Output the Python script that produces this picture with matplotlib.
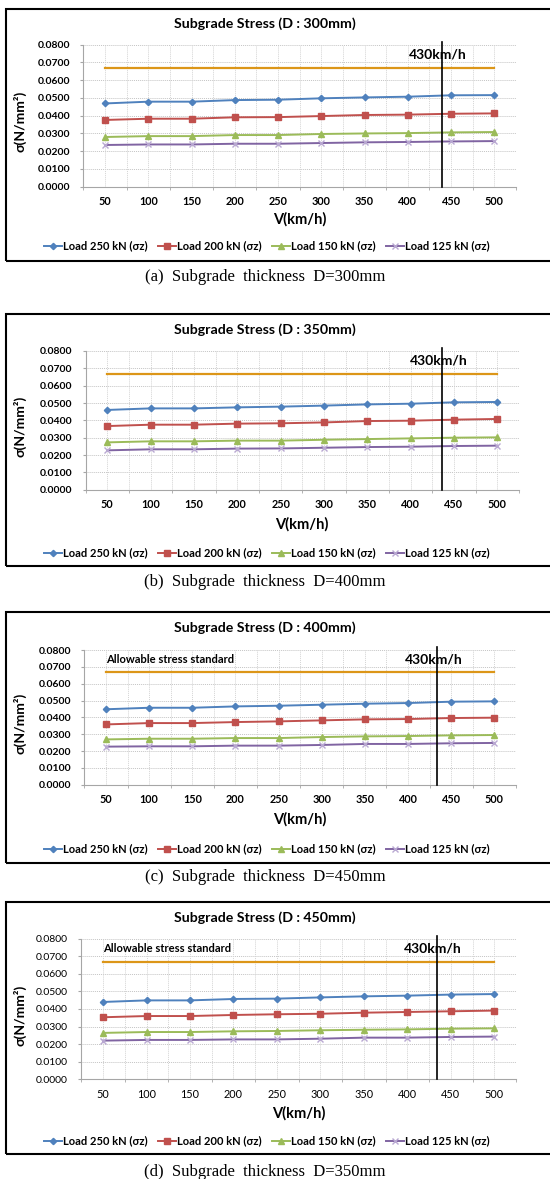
import matplotlib
matplotlib.use('Agg')
import matplotlib.pyplot as plt
from matplotlib.lines import Line2D
from matplotlib.patches import Rectangle
import numpy as np

plt.rcParams['font.family'] = ['Lato', 'DejaVu Sans']

# x categories (km/h)
speeds = [50, 100, 150, 200, 250, 300, 350, 400, 450, 500]

# D = 300mm
d300_250 = [0.0469, 0.0479, 0.0479, 0.0488, 0.0490, 0.0498, 0.0503, 0.0507, 0.0515, 0.0516]
d300_200 = [0.0376, 0.0383, 0.0383, 0.0391, 0.0392, 0.0398, 0.0404, 0.0406, 0.0411, 0.0413]
d300_150 = [0.0280, 0.0285, 0.0285, 0.0291, 0.0291, 0.0297, 0.0300, 0.0302, 0.0306, 0.0308]
d300_125 = [0.0235, 0.0238, 0.0238, 0.0242, 0.0242, 0.0246, 0.0250, 0.0252, 0.0255, 0.0257]

# D = 350mm
d350_250 = [0.0460, 0.0469, 0.0469, 0.0475, 0.0479, 0.0485, 0.0492, 0.0496, 0.0504, 0.0506]
d350_200 = [0.0367, 0.0375, 0.0375, 0.0381, 0.0383, 0.0388, 0.0396, 0.0398, 0.0404, 0.0408]
d350_150 = [0.0273, 0.0279, 0.0279, 0.0283, 0.0283, 0.0288, 0.0292, 0.0296, 0.0300, 0.0302]
d350_125 = [0.0227, 0.0233, 0.0233, 0.0237, 0.0238, 0.0242, 0.0246, 0.0248, 0.0252, 0.0254]

# D = 400mm
d400_250 = [0.0448, 0.0457, 0.0457, 0.0465, 0.0469, 0.0475, 0.0481, 0.0485, 0.0493, 0.0495]
d400_200 = [0.0358, 0.0366, 0.0366, 0.0372, 0.0376, 0.0382, 0.0388, 0.0390, 0.0396, 0.0398]
d400_150 = [0.0269, 0.0273, 0.0273, 0.0277, 0.0277, 0.0283, 0.0287, 0.0289, 0.0293, 0.0295]
d400_125 = [0.0226, 0.0228, 0.0228, 0.0232, 0.0232, 0.0236, 0.0242, 0.0242, 0.0246, 0.0248]

# D = 450mm
d450_250 = [0.0440, 0.0449, 0.0449, 0.0457, 0.0459, 0.0466, 0.0472, 0.0476, 0.0482, 0.0485]
d450_200 = [0.0353, 0.0360, 0.0360, 0.0366, 0.0370, 0.0373, 0.0379, 0.0383, 0.0387, 0.0391]
d450_150 = [0.0264, 0.0269, 0.0269, 0.0273, 0.0275, 0.0279, 0.0282, 0.0284, 0.0288, 0.0290]
d450_125 = [0.0220, 0.0224, 0.0224, 0.0227, 0.0227, 0.0231, 0.0237, 0.0237, 0.0241, 0.0243]

allowable = 0.0670
series_labels = ['Load 250 kN (σz)', 'Load 200 kN (σz)', 'Load 150 kN (σz)', 'Load 125 kN (σz)']
titles = ['Subgrade Stress (D : 300mm)', 'Subgrade Stress (D : 350mm)',
          'Subgrade Stress (D : 400mm)', 'Subgrade Stress (D : 450mm)']
captions = ['(a)  Subgrade  thickness  D=300mm', '(b)  Subgrade  thickness  D=400mm',
            '(c)  Subgrade  thickness  D=450mm', '(d)  Subgrade  thickness  D=350mm']
# position of the 430km/h marker line on the category axis
line_pos = [7.79, 7.73, 7.68, 7.68]

panels_data = [
    [d300_250, d300_200, d300_150, d300_125],
    [d350_250, d350_200, d350_150, d350_125],
    [d400_250, d400_200, d400_150, d400_125],
    [d450_250, d450_200, d450_150, d450_125],
]

colors = ['#4F81BD', '#C0504D', '#9BBB59', '#8064A2']
markers = ['D', 's', '^', 'x']
msizes = [3.2, 4.4, 4.4, 4.6]
orange = '#DC9618'

W, H = 550, 1179
fig = plt.figure(figsize=(W / 100, H / 100), dpi=100)


def px(x, y):
    return x / W, 1 - y / H


# pixel layout of each panel: box top/bottom, plot area, text rows
layout = [
    dict(box=(9, 261), plot=(83.4, 44.7, 516, 186.7), title=24, xlab=219, leg=246, cap=277),
    dict(box=(314, 566), plot=(85.6, 351, 518.9, 489.7), title=330, xlab=524, leg=553, cap=582),
    dict(box=(612, 863), plot=(84.4, 650, 515.9, 784.7), title=628, xlab=819, leg=849, cap=877),
    dict(box=(902, 1154), plot=(81.3, 938.7, 516, 1079.3), title=918, xlab=1113, leg=1141, cap=1172),
]

x = np.arange(len(speeds))

for i, (lay, data) in enumerate(zip(layout, panels_data)):
    # outer frame
    b0, b1 = lay['box']
    fig.patches.append(Rectangle(px(6, b1), 560 / W, (b1 - b0) / H, transform=fig.transFigure,
                                 fill=False, edgecolor='black', linewidth=1.5))

    l, t, r, b = lay['plot']
    ax = fig.add_axes([l / W, 1 - b / H, (r - l) / W, (b - t) / H])
    weight = 'normal' if i == 3 else 'bold'

    ax.plot(x, [allowable] * len(x), color=orange, linewidth=1.6, zorder=3)
    for vals, c, m, ms in zip(data, colors, markers, msizes):
        mec = '#B9A8D2' if m == 'x' else c
        ax.plot(x, vals, color=c, marker=m, markersize=ms, linewidth=1.4,
                markeredgecolor=mec, markerfacecolor=c, markeredgewidth=1.0, zorder=4)

    ax.axvline(line_pos[i], ymin=0, ymax=1.02, color='black', linewidth=1.2, clip_on=False, zorder=5)
    ax.text(line_pos[i] - 0.09, 0.0745, '430km/h', ha='center', va='center',
            fontsize=10, fontweight='bold', zorder=6)
    if i >= 2:
        ax.text(0.0, 0.0745, 'Allowable stress standard', ha='left', va='center',
                fontsize=8, fontweight='bold')

    ax.set_xlim(-0.5, len(x) - 0.5)
    ax.set_ylim(0, 0.08)
    ax.set_yticks(np.arange(0, 0.0801, 0.01))
    ax.set_yticklabels([f'{v:.4f}' for v in np.arange(0, 0.0801, 0.01)],
                       fontsize=7.5, fontweight=weight)
    ax.set_xticks(x)
    ax.set_xticklabels([str(s) for s in speeds], fontsize=7.8, fontweight=weight)
    ax.set_xticks(np.arange(-0.5, len(x), 1.0), minor=True)
    ax.tick_params(axis='x', which='major', length=0, pad=7)
    ax.tick_params(axis='x', which='minor', length=2.5, color='#A6A6A6')
    ax.tick_params(axis='y', length=2.5, color='#A6A6A6', pad=7)

    # gridlines at category centres and boundaries
    for gx in np.arange(-0.5, len(x), 0.5):
        ax.axvline(gx, color='#D4D4D4', linewidth=0.7, linestyle=(0, (1, 1)), zorder=1)
    ax.grid(axis='y', color='#C4C4C4', linewidth=0.7, linestyle=(0, (1, 1)), zorder=1)
    ax.set_axisbelow(True)
    for side in ['top', 'right']:
        ax.spines[side].set_visible(False)
    for side in ['left', 'bottom']:
        ax.spines[side].set_color('#A6A6A6')
        ax.spines[side].set_linewidth(0.8)

    cx = (l + r) / 2
    fig.text(*px(265, lay['title']), titles[i], ha='center', va='center',
             fontsize=10.2, fontweight='bold')
    fig.text(*px(cx, lay['xlab']), 'V(km/h)', ha='center', va='center',
             fontsize=10.5, fontweight='bold')
    fig.text(*px(20, (t + b) / 2 + 6), 'σ(N/mm²)', ha='center', va='center', rotation=90,
             fontsize=10, fontweight='bold')

    handles = [Line2D([], [], color=c, marker=m, markersize=ms, linewidth=1.4,
                      markeredgecolor=('#B9A8D2' if m == 'x' else c))
               for c, m, ms in zip(colors, markers, msizes)]
    fig.legend(handles, series_labels, loc='center', bbox_to_anchor=px(267, lay['leg']),
               ncol=4, frameon=False, handlelength=1.6, handletextpad=0.1,
               columnspacing=0.95, prop=dict(size=8, weight='bold'))

    fig.text(*px(265, lay['cap']), captions[i], ha='center', va='center',
             fontsize=12, family=['Liberation Serif'])

fig.savefig('out.png', dpi=100)
